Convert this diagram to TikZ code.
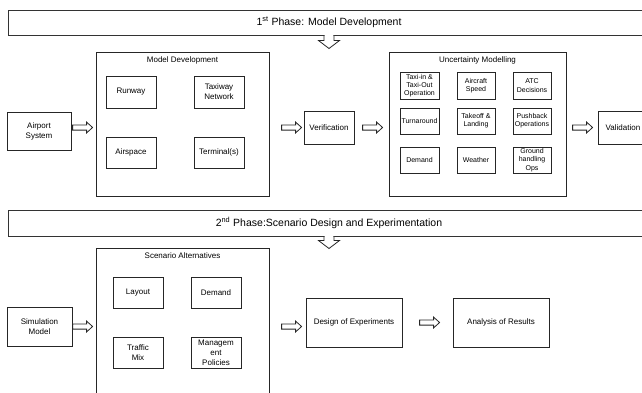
\documentclass[tikz,border=0pt]{standalone}
\usepackage{fontspec}
\setmainfont{Liberation Sans}
\usetikzlibrary{calc}
\begin{document}
\begin{tikzpicture}[x=1pt,y=-1pt,
  sz/.style 2 args={minimum width=#1pt, minimum height=#2pt},
  box/.style={draw=black!85, line width=0.8pt, inner sep=0pt, align=center, font=\fontsize{8}{10}\selectfont},
  sbox/.style={box, font=\fontsize{7}{8.3}\selectfont},
  banner/.style={draw=black!80, line width=1pt, inner sep=0pt, align=center, font=\fontsize{10.5}{12}\selectfont},
  ttl/.style={inner sep=0pt, font=\fontsize{8}{10}\selectfont},
  arrline/.style={draw=black!85, line width=0.8pt, fill=white, line join=miter},
  harr/.pic={\draw[arrline] (0,-2.6) -- (14,-2.6) -- (14,-5.4) -- (20,0) -- (14,5.4) -- (14,2.6) -- (0,2.6) -- cycle;}]
\useasboundingbox (0,0) rectangle (642,392);

% Phase 1 banner
\node[banner, sz={642}{25}] (ph1) at (329,22.5) {1\textsuperscript{st} Phase: Model Development};
\fill[white] ($(ph1.south)+(-4.4,-0.8)$) rectangle ($(ph1.south)+(4.4,0.8)$);
\draw[arrline] ($(ph1.south)+(-5,0)$) -- ++(0,5) -- ++(-5.5,0) -- ++(10.5,8) -- ++(10.5,-8) -- ++(-5.5,0) -- ++(0,-5);

% Row 1
\node[box, sz={64}{38}] (air) at (39,131) {Airport\\System};
\node[box, sz={173}{144}] (md) at (182.5,124) {};
\node[ttl] (mdt) at (182.5,60) {Model Development};
\node[box, sz={50}{32}] (run) at (131,92) {Runway};
\node[box, sz={50}{32}] (taxi) at (219,92) {Taxiway\\Network};
\node[box, sz={50}{31}] (asp) at (131,152.5) {Airspace};
\node[box, sz={50}{31}] (term) at (219,152.5) {Terminal(s)};
\node[box, sz={50}{33}] (ver) at (329,127.5) {Verification};

\node[box, sz={177}{144}] (um) at (477.5,124) {};
\node[ttl] (umt) at (477.5,60) {Uncertainty Modelling};
\node[sbox, sz={39}{27}] (u11) at (419.5,85.5) {Taxi-in \&\\Taxi-Out\\Operation};
\node[sbox, sz={38}{27}] (u12) at (476,85.5) {Aircraft\\Speed};
\node[sbox, sz={38}{27}] (u13) at (532,85.5) {ATC\\Decisions};
\node[sbox, sz={39}{26}] (u21) at (419.5,121) {Turnaround};
\node[sbox, sz={38}{26}] (u22) at (476,121) {Takeoff \&\\Landing};
\node[sbox, sz={38}{26}] (u23) at (532,121) {Pushback\\Operations};
\node[sbox, sz={39}{26}] (u31) at (419.5,160) {Demand};
\node[sbox, sz={38}{26}] (u32) at (476,160) {Weather};
\node[sbox, sz={38}{26}] (u33) at (532,160) {Ground\\handling\\Ops};
\node[box, sz={50}{33}] (val) at (623,127.5) {Validation};

\pic at ($(md.west |- ver.west)+(-23,0)$) {harr};
\pic at ($(ver.west)+(-22,0)$) {harr};
\pic at ($(um.west |- ver.west)+(-26,0)$) {harr};
\pic at ($(val.west)+(-25,0)$) {harr};

% Phase 2 banner
\node[banner, sz={642}{26}] (ph2) at (329,223) {2\textsuperscript{nd} Phase:Scenario Design and Experimentation};
\fill[white] ($(ph2.south)+(-4.4,-0.8)$) rectangle ($(ph2.south)+(4.4,0.8)$);
\draw[arrline] ($(ph2.south)+(-5,0)$) -- ++(0,4) -- ++(-5.5,0) -- ++(10.5,8) -- ++(10.5,-8) -- ++(-5.5,0) -- ++(0,-4);

% Row 2
\node[box, sz={65}{39}] (sim) at (39.5,326.5) {Simulation\\Model};
\node[box, sz={173}{150}] (sa) at (182.5,323) {};
\node[ttl] (sat) at (182.5,256) {Scenario Alternatives};
\node[box, sz={50}{31}] (lay) at (138,292.5) {Layout};
\node[box, sz={50}{31}] (dem) at (216,292.5) {Demand};
\node[box, sz={50}{31}] (tmix) at (138,352.5) {Traffic\\Mix};
\node[box, sz={50}{31}] (mgmt) at (216,352.5) {Managem\\ent\\Policies};
\node[box, sz={96}{49}] (doe) at (354,322.5) {Design of Experiments};
\node[box, sz={96}{49}] (aor) at (501,322.5) {Analysis of Results};

\pic at ($(sa.west |- sim.east)+(-23,0)$) {harr};
\pic at ($(doe.west |- sim.east)+(-24,0)$) {harr};
\pic at ($(aor.west)+(-33,0)$) {harr};
\end{tikzpicture}
\end{document}
